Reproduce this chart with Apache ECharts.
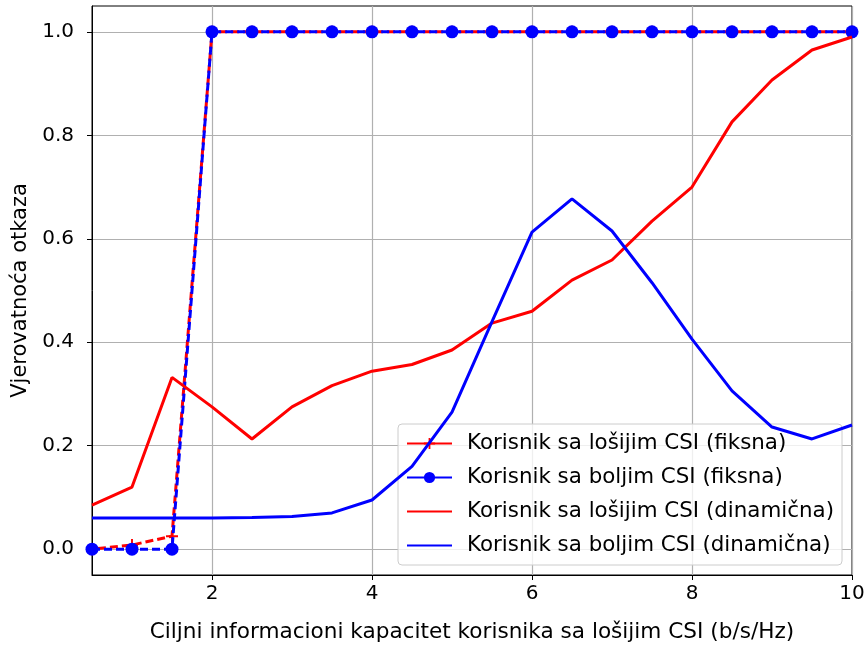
<!DOCTYPE html>
<html>
<head>
<meta charset="utf-8">
<script src="https://cdn.jsdelivr.net/npm/echarts@6/dist/echarts.min.js"></script>
<style>
  html, body { margin: 0; padding: 0; background: #fff; }
  #chart { width: 868px; height: 646px; }
</style>
</head>
<body>
<div id="chart"></div>
<script>
// x: ciljni kapacitet (b/s/Hz)
var xVals = [0.5, 1, 1.5, 2, 2.5, 3, 3.5, 4, 4.5, 5, 5.5, 6, 6.5, 7, 7.5, 8, 8.5, 9, 9.5, 10];

var losijiFiksna = [0, 0.008, 0.025, 1, 1, 1, 1, 1, 1, 1, 1, 1, 1, 1, 1, 1, 1, 1, 1, 1];
var boljiFiksna = [0, 0, 0, 1, 1, 1, 1, 1, 1, 1, 1, 1, 1, 1, 1, 1, 1, 1, 1, 1];
var losijiDinamicna = [0.085, 0.12, 0.332, 0.275, 0.213, 0.275, 0.316, 0.344, 0.357, 0.385,
                       0.437, 0.46, 0.52, 0.559, 0.634, 0.70, 0.826, 0.907, 0.965, 0.99];
var boljiDinamicna = [0.06, 0.06, 0.06, 0.06, 0.061, 0.063, 0.07, 0.095, 0.16, 0.265,
                      0.44, 0.613, 0.677, 0.615, 0.515, 0.406, 0.306, 0.236, 0.213, 0.24];

var xTicks = [2, 4, 6, 8, 10];
var yTicks = [0, 0.2, 0.4, 0.6, 0.8, 1.0];

var names = [
  'Korisnik sa lošijim CSI (fiksna)',
  'Korisnik sa boljim CSI (fiksna)',
  'Korisnik sa lošijim CSI (dinamična)',
  'Korisnik sa boljim CSI (dinamična)'
];

function pairs(ys) {
  return xVals.map(function (x, i) { return [x, ys[i]]; });
}

var plusIcon = 'path://M4.2,0H5.8V4.2H10V5.8H5.8V10H4.2V5.8H0V4.2H4.2Z';
var font = 'DejaVu Sans';

var chart = echarts.init(document.getElementById('chart'));
chart.setOption({
  animation: false,
  textStyle: { fontFamily: font },
  grid: {
    left: 92, right: 16, top: 6, bottom: 71,
    outerBoundsMode: 'none', containLabel: false,
    show: true, borderColor: '#000', borderWidth: 1, backgroundColor: 'transparent'
  },
  legend: {
    orient: 'vertical',
    left: 398, top: 424,
    itemWidth: 45, itemHeight: 14, itemGap: 13,
    padding: [9, 8, 9, 8],
    backgroundColor: 'rgba(255,255,255,0.8)',
    borderColor: '#cccccc', borderWidth: 1, borderRadius: 4,
    textStyle: { fontFamily: font, fontSize: 21.4, color: '#000', padding: [0, 0, 0, 10] },
    data: [
      { name: names[0], lineStyle: { type: 'solid' } },
      { name: names[1], lineStyle: { type: 'solid' } },
      { name: names[2], itemStyle: { opacity: 0 } },
      { name: names[3], itemStyle: { opacity: 0 } }
    ]
  },
  xAxis: {
    type: 'value',
    min: 0.5, max: 10,
    name: 'Ciljni informacioni kapacitet korisnika sa lošijim CSI (b/s/Hz)',
    nameLocation: 'middle', nameGap: 46,
    nameTextStyle: { fontFamily: font, fontSize: 21.6, color: '#000' },
    axisLine: { show: true, onZero: false, lineStyle: { color: '#000' } },
    axisTick: { show: true, length: 5, customValues: xTicks, lineStyle: { color: '#000' } },
    axisLabel: { customValues: xTicks, fontFamily: font, fontSize: 20, color: '#000', margin: 9 },
    splitLine: { show: true, lineStyle: { color: '#b0b0b0', width: 1.2 } }
  },
  yAxis: {
    type: 'value',
    min: -0.05, max: 1.05,
    name: 'Vjerovatnoća otkaza',
    nameLocation: 'middle', nameGap: 60,
    nameTextStyle: { fontFamily: font, fontSize: 21, color: '#000' },
    axisLine: { show: true, onZero: false, lineStyle: { color: '#000' } },
    axisTick: { show: true, length: 5, customValues: yTicks, lineStyle: { color: '#000' } },
    axisLabel: {
      customValues: yTicks, fontFamily: font, fontSize: 20, color: '#000', margin: 18,
      formatter: function (v) { return v.toFixed(1); }
    },
    splitLine: { show: true, lineStyle: { color: '#b0b0b0', width: 1.2 } }
  },
  series: [
    {
      name: names[0], type: 'line', data: pairs(losijiFiksna),
      symbol: plusIcon, symbolSize: 12, showAllSymbol: true,
      itemStyle: { color: '#ff0000' },
      lineStyle: { color: '#ff0000', width: 3, type: [8, 4], dashOffset: 6 },
      z: 2
    },
    {
      name: names[1], type: 'line', data: pairs(boljiFiksna),
      symbol: 'circle', symbolSize: 13, showAllSymbol: true,
      itemStyle: { color: '#0000ff' },
      lineStyle: { color: '#0000ff', width: 3, type: [8, 4] },
      z: 3
    },
    {
      name: names[2], type: 'line', data: pairs(losijiDinamicna),
      symbol: 'none', showSymbol: false,
      itemStyle: { color: '#ff0000' },
      lineStyle: { color: '#ff0000', width: 3 },
      z: 4
    },
    {
      name: names[3], type: 'line', data: pairs(boljiDinamicna),
      symbol: 'none', showSymbol: false,
      itemStyle: { color: '#0000ff' },
      lineStyle: { color: '#0000ff', width: 3 },
      z: 5
    }
  ]
});
</script>
</body>
</html>
